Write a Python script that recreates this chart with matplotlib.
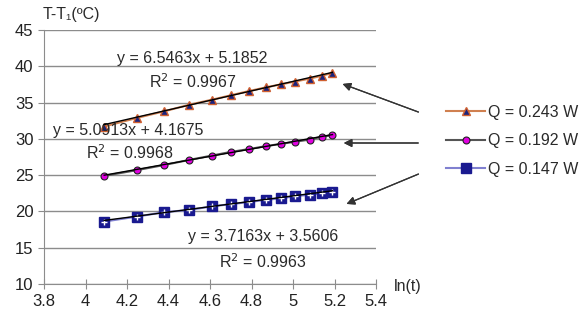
import numpy as np
import matplotlib.pyplot as plt

# ln(t) values and temperature rise for each heating power
ln_t = [4.09, 4.25, 4.38, 4.50, 4.61, 4.70, 4.79, 4.87, 4.94, 5.01, 5.08, 5.14, 5.19]
dT_243 = [31.7, 32.9, 33.8, 34.7, 35.4, 36.0, 36.6, 37.1, 37.5, 37.9, 38.3, 38.7, 39.1]
dT_192 = [24.9, 25.7, 26.4, 27.1, 27.7, 28.2, 28.6, 29.0, 29.3, 29.6, 29.9, 30.3, 30.5]
dT_147 = [18.6, 19.3, 19.9, 20.2, 20.7, 21.0, 21.3, 21.6, 21.8, 22.1, 22.3, 22.5, 22.7]
labels = ["Q = 0.243 W", "Q = 0.192 W", "Q = 0.147 W"]
slopes = [6.5463, 5.0913, 3.7163]
intercepts = [5.1852, 4.1675, 3.5606]
r2 = ["0.9967", "0.9968", "0.9963"]

plt.rcParams["font.family"] = ["Liberation Sans", "DejaVu Sans"]
fig = plt.figure(figsize=(5.81, 3.22), dpi=100)
ax = fig.add_axes([44/581, 1-284/322, 332/581, 254/322])

x = np.array(ln_t)
h1, = ax.plot(x, dT_243, "-", color="#d08050", lw=1.5, marker="^", ms=5.5,
              mfc="#1a237e", mec="#d06030", mew=1.0, zorder=3)
h2, = ax.plot(x, dT_192, "-", color="#555555", lw=1.5, marker="o", ms=5,
              mfc="#e000e0", mec="#222222", mew=0.8, zorder=3)
h3, = ax.plot(x, dT_147, "-", color="#8080d0", lw=1.5, marker="s", ms=6.5,
              mfc="#1a1a90", mec="#1a1a90", zorder=3)
ax.plot(x, dT_147, "+", color="white", ms=5, mew=1.0, zorder=4)

# linear trend lines
for a, b in zip(slopes, intercepts):
    ax.plot(x, a*x + b, "-", color="black", lw=1.0, zorder=5)

ax.set_xlim(3.8, 5.4)
ax.set_ylim(10, 45)
ax.set_xticks(np.arange(3.8, 5.41, 0.2))
ax.set_xticklabels(["3.8", "4", "4.2", "4.4", "4.6", "4.8", "5", "5.2", "5.4"])
ax.set_yticks(range(10, 46, 5))
ax.yaxis.grid(True, color="#8c8c8c", lw=1.0)
ax.set_axisbelow(True)
for s in ["top", "right"]:
    ax.spines[s].set_visible(False)
for s in ["left", "bottom"]:
    ax.spines[s].set_color("#8c8c8c")
ax.tick_params(direction="out", length=4, color="#8c8c8c", labelsize=12,
               labelcolor="#222222")
ax.tick_params(axis="x", direction="inout", length=7)

tc = "#2a2a2a"
fs = 11.5
ax.text(4.513, 41.14, f"y = {slopes[0]}x + {intercepts[0]}", ha="center", va="center", fontsize=fs, color=tc)
ax.text(4.518, 37.83, f"R$^2$ = {r2[0]}", ha="center", va="center", fontsize=fs, color=tc)
ax.text(4.205, 31.22, f"y = {slopes[1]:.4f}x + {intercepts[1]}", ha="center", va="center", fontsize=fs, color=tc)
ax.text(4.214, 28.05, f"R$^2$ = {r2[1]}", ha="center", va="center", fontsize=fs, color=tc)
ax.text(4.855, 16.61, f"y = {slopes[2]}x + {intercepts[2]}", ha="center", va="center", fontsize=fs, color=tc)
ax.text(4.855, 13.03, f"R$^2$ = {r2[2]}", ha="center", va="center", fontsize=fs, color=tc)

fig.text(43/581, 1-15/322, "T-T₁(ºC)", ha="left", va="center", fontsize=11.5, color=tc)
fig.text(394/581, 1-287/322, "ln(t)", ha="left", va="center", fontsize=11.5, color=tc)

# arrows from legend to curves
for (x0, y0), (x1, y1) in [((421, 113), (340, 83)), ((421, 143), (341, 143)),
                           ((421, 173), (344, 205))]:
    fig.add_artist(plt.annotate("", xy=(x1/581, 1-y1/322), xytext=(x0/581, 1-y0/322),
                                xycoords="figure fraction", textcoords="figure fraction",
                                arrowprops=dict(arrowstyle="-|>", color="#333333", lw=0.9,
                                                mutation_scale=12)))

leg = fig.legend([h1, h2, h3], labels, loc="center left",
                 bbox_to_anchor=(432/581, 1-141/322), frameon=False, fontsize=11.5,
                 handlelength=2.4, handletextpad=0.2, labelspacing=0.85,
                 labelcolor=tc)

fig.savefig("out.png", dpi=100)
